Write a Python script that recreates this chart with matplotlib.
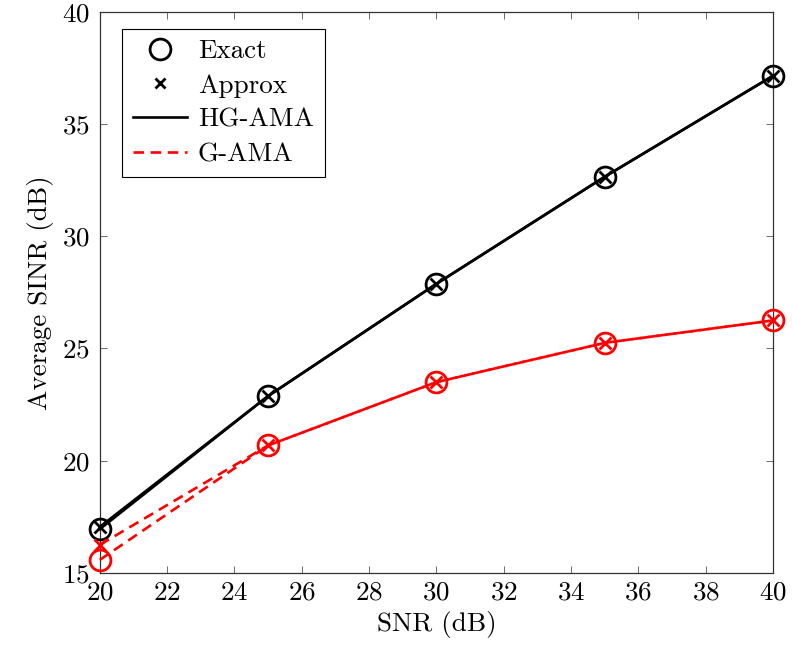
import numpy as np
import matplotlib.pyplot as plt
from matplotlib.lines import Line2D

plt.rcParams['font.family'] = 'serif'
plt.rcParams['font.serif'] = ['cmr10']
plt.rcParams['mathtext.fontset'] = 'cm'
plt.rcParams['axes.formatter.use_mathtext'] = True

# SNR points (dB)
snr = [20, 25, 30, 35, 40]

# Average SINR (dB) for each scheme
hg_exact = [16.95, 22.88, 27.88, 32.65, 37.15]
hg_approx = [17.05, 22.88, 27.88, 32.65, 37.15]
g_exact = [15.58, 20.68, 23.50, 25.25, 26.25]
g_approx = [16.25, 20.68, 23.50, 25.25, 26.25]

fig = plt.figure(figsize=(7.92, 6.57), dpi=100)
ax = fig.add_axes([0.126, 0.128, 0.850, 0.854])

lw = 1.9
dash = (4, 2.5)
ax.plot(snr, hg_exact, '-', color='black', lw=lw, marker='o', ms=15,
        mfc='none', mew=2.0, clip_on=False, zorder=3)
ax.plot(snr, hg_approx, '-', color='black', lw=lw, marker='x', ms=8, mew=2.0,
        clip_on=False, zorder=3)
ax.plot(snr, g_exact, '--', color='red', lw=lw, marker='o', ms=15,
        mfc='none', mew=2.0, dashes=dash, clip_on=False, zorder=3)
ax.plot(snr, g_approx, '--', color='red', lw=lw, marker='x', ms=8, mew=2.0,
        dashes=dash, clip_on=False, zorder=3)

ax.set_xlim(20, 40)
ax.set_ylim(15, 40)
ax.set_xticks(np.arange(20, 41, 2))
ax.set_yticks(np.arange(15, 41, 5))
ax.tick_params(direction='in', top=True, right=True, labelsize=19.5,
               length=5, width=0.6, color='#555555')
ax.tick_params(axis='x', pad=6)
ax.tick_params(axis='y', pad=7)
for sp in ax.spines.values():
    sp.set_linewidth(0.9)
    sp.set_color('#333333')

ax.set_xlabel('SNR (dB)', fontsize=19.5, labelpad=4)
ax.set_ylabel('Average SINR (dB)', fontsize=19.5, labelpad=6)

handles = [
    Line2D([], [], ls='none', marker='o', ms=15, mfc='none', mec='black', mew=2.0),
    Line2D([], [], ls='none', marker='x', ms=7, mec='black', mew=2.0),
    Line2D([], [], ls='-', color='black', lw=lw),
    Line2D([], [], ls='--', color='red', lw=lw, dashes=dash),
]
labels = ['Exact', 'Approx', 'HG-AMA', 'G-AMA']
leg = ax.legend(handles, labels, loc='upper left', fontsize=19.5,
                fancybox=False, edgecolor='black', framealpha=1,
                bbox_to_anchor=(0.033, 0.97), handlelength=2.0,
                labelspacing=0.38, borderpad=0.4, handletextpad=0.4,
                borderaxespad=0)
leg.get_frame().set_linewidth(0.8)

fig.savefig('out.png', dpi=100)
